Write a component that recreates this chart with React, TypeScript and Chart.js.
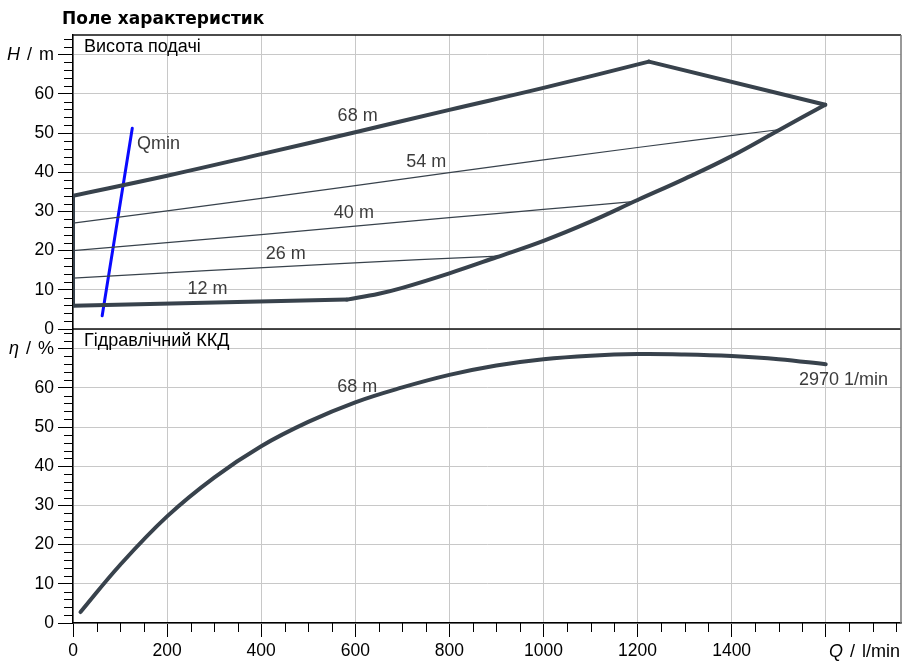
import React, { useEffect, useRef } from 'react';
import { Chart, registerables } from 'chart.js';

Chart.register(...registerables);

// ---- data (Q in l/min, H in m, eta in %) ----
const lowerEdgeQ = [582, 650, 700, 800, 900, 1000, 1100, 1200, 1300, 1400, 1503, 1599];
const lowerEdgeH = [7.5, 9.0, 10.5, 14.2, 18.3, 22.5, 27.4, 32.9, 38.3, 44.1, 50.9, 57.2];
const upperEdgeQ = [0, 200, 400, 600, 800, 1000, 1224];
const upperEdgeH = [34.0, 39.1, 44.6, 50.2, 55.9, 61.5, 68.2];
const rightEdgeQ = [1224, 1599];
const rightEdgeH = [68.2, 57.2];
const leftEdgeQ = [0, 0];
const leftEdgeH = [5.9, 34.0];
const d12Q = [0, 582];
const d12H = [5.9, 7.5];
const d54Q = [0, 400, 800, 1200, 1503];
const d54H = [27.0, 33.3, 39.9, 46.3, 50.9];
const d40Q = [0, 400, 800, 1000, 1202];
const d40H = [20.0, 24.1, 28.4, 30.5, 32.6];
const d26Q = [0, 567, 904];
const d26H = [13.0, 16.7, 18.6];
const qminQ = [62, 126];
const qminH = [3.4, 51.2];
const effQ = [16, 100, 200, 300, 400, 500, 600, 700, 800, 900, 1000, 1100, 1200, 1300, 1400, 1500, 1600];
const effEta = [2.8, 14.8, 27.2, 37.1, 45.1, 51.3, 56.3, 60.1, 63.3, 65.7, 67.3, 68.2, 68.6, 68.5, 68.1, 67.3, 66.0];

// tick values
const xTickValues = [0, 200, 400, 600, 800, 1000, 1200, 1400, 1600];
const xLabelHidden = [1600];
const yTickValues = [0, 10, 20, 30, 40, 50, 60, 70];
const yLabelHidden = [70];

// labels anchored in data units
const headLabelText = ['68 m', '54 m', '40 m', '26 m', '12 m'];
const headLabelQ = [605, 751, 597, 452, 286];
const headLabelH = [54.3, 42.5, 29.5, 19.1, 10.2];
const qminLabel = 'Qmin';
const qminLabelQ = 136;
const qminLabelH = 47.1;
const effLabelText = ['68 m'];
const effLabelQ = [604];
const effLabelEta = [60.1];
const speedLabel = '2970 1/min';
const speedLabelQ = 1543;
const speedLabelEta = 62.0;

const title = 'Поле характеристик';
const topPanelTitle = 'Висота подачі';
const bottomPanelTitle = 'Гідравлічний ККД';

const CURVE = '#38424c';
const LABEL = '#3c3c3c';
const GRID = '#c8c8c8';
const FONT = '"Liberation Sans", Arial, sans-serif';

const pts = (qs: number[], vs: number[]) => qs.map((q, i) => ({ x: q, y: vs[i] }));

const thick = (data: any[], axis: string, curved = true) => ({
  data,
  yAxisID: axis,
  showLine: true,
  borderColor: CURVE,
  borderWidth: 4,
  pointRadius: 0,
  borderCapStyle: 'round',
  borderJoinStyle: 'round',
  cubicInterpolationMode: 'default',
  tension: curved ? 0.4 : 0,
});
const thin = (data: any[]) => ({
  data,
  yAxisID: 'yHead',
  showLine: true,
  borderColor: CURVE,
  borderWidth: 1.2,
  pointRadius: 0,
  cubicInterpolationMode: 'default',
  tension: 0.4,
});

const decor = {
  id: 'decor',
  afterDraw(chart: any) {
    const { ctx, chartArea: a, scales } = chart;
    const x = scales.x;
    const yH = scales.yHead;
    const yE = scales.yEta;
    ctx.save();
    // minor ticks
    ctx.strokeStyle = '#000';
    ctx.lineWidth = 1;
    ctx.beginPath();
    for (let q = 0; q <= x.max; q += 50) {
      if (q % 200 === 0) continue;
      const px = Math.round(x.getPixelForValue(q)) + 0.5;
      ctx.moveTo(px, a.bottom);
      ctx.lineTo(px, a.bottom + 9);
    }
    for (const s of [yH, yE]) {
      for (let v = 0; v <= s.max; v += 2) {
        if (v % 10 === 0) continue;
        const py = Math.round(s.getPixelForValue(v)) + 0.5;
        ctx.moveTo(a.left - 9, py);
        ctx.lineTo(a.left, py);
      }
    }
    ctx.stroke();
    // frame
    ctx.lineWidth = 1.5;
    ctx.strokeStyle = '#111';
    ctx.beginPath();
    ctx.moveTo(a.left, a.top);
    ctx.lineTo(a.right, a.top);
    const mid = yH.getPixelForValue(0);
    ctx.moveTo(a.left, mid);
    ctx.lineTo(a.right, mid);
    ctx.stroke();
    ctx.strokeStyle = '#777';
    ctx.beginPath();
    ctx.moveTo(a.right, a.top);
    ctx.lineTo(a.right, a.bottom);
    ctx.stroke();

    // title
    ctx.fillStyle = '#000';
    ctx.font = 'bold 17px "DejaVu Sans"';
    ctx.textAlign = 'left';
    ctx.textBaseline = 'alphabetic';
    ctx.fillText(title, a.left - 11, 24);

    // panel titles
    ctx.font = `18px ${FONT}`;
    ctx.textBaseline = 'middle';
    ctx.fillText(topPanelTitle, a.left + 11, yH.top + 12);
    ctx.fillText(bottomPanelTitle, a.left + 11, yE.top + 12);

    // axis titles
    const axisTitle = (sym: string, unit: string, px: number, py: number) => {
      ctx.textAlign = 'right';
      ctx.textBaseline = 'middle';
      ctx.fillStyle = '#000';
      ctx.font = `18px ${FONT}`;
      ctx.fillText(unit, px, py);
      const uw = ctx.measureText(unit).width;
      ctx.fillText('/', px - uw - 7, py);
      const sw = ctx.measureText('/').width;
      ctx.font = `italic 18px ${FONT}`;
      ctx.fillText(sym, px - uw - 7 - sw - 7, py);
    };
    axisTitle('H', 'm', a.left - 19, yH.getPixelForValue(70));
    axisTitle('η', '%', a.left - 19, yE.getPixelForValue(70));
    axisTitle('Q', 'l/min', a.right - 1, a.bottom + 29);

    // curve labels
    ctx.fillStyle = LABEL;
    ctx.font = `18px ${FONT}`;
    ctx.textAlign = 'center';
    ctx.textBaseline = 'middle';
    headLabelText.forEach((t, i) => {
      ctx.fillText(t, x.getPixelForValue(headLabelQ[i]), yH.getPixelForValue(headLabelH[i]));
    });
    effLabelText.forEach((t, i) => {
      ctx.fillText(t, x.getPixelForValue(effLabelQ[i]), yE.getPixelForValue(effLabelEta[i]));
    });
    ctx.textAlign = 'left';
    ctx.fillText(qminLabel, x.getPixelForValue(qminLabelQ), yH.getPixelForValue(qminLabelH));
    ctx.fillText(speedLabel, x.getPixelForValue(speedLabelQ), yE.getPixelForValue(speedLabelEta));
    ctx.restore();
  },
};

export default function App() {
  const ref = useRef<HTMLCanvasElement>(null);
  useEffect(() => {
    if (!ref.current) return;
    const yScale = () => ({
      type: 'linear',
      position: 'left',
      stack: 'panels',
      stackWeight: 1,
      min: 0,
      max: 75,
      afterFit: (s: any) => {
        s.width = 73;
      },
      afterBuildTicks: (s: any) => {
        s.ticks = yTickValues.map((v) => ({ value: v }));
      },
      border: { color: '#000', width: 1.5 },
      grid: { color: GRID, lineWidth: 1, tickLength: 15, tickColor: '#000', tickWidth: 1 },
      ticks: {
        autoSkip: false,
        padding: 4,
        color: '#000',
        font: { family: FONT, size: 17.5 },
        callback: (v: number) => (yLabelHidden.includes(v) ? '' : String(v)),
      },
    });
    const chart = new Chart(ref.current, {
      type: 'scatter',
      data: {
        datasets: [
          thick(pts(lowerEdgeQ, lowerEdgeH), 'yHead'),
          thick(pts(upperEdgeQ, upperEdgeH), 'yHead'),
          thick(pts(rightEdgeQ, rightEdgeH), 'yHead', false),
          thick(pts(leftEdgeQ, leftEdgeH), 'yHead', false),
          thick(pts(d12Q, d12H), 'yHead', false),
          thin(pts(d54Q, d54H)),
          thin(pts(d40Q, d40H)),
          thin(pts(d26Q, d26H)),
          {
            data: pts(qminQ, qminH),
            yAxisID: 'yHead',
            showLine: true,
            borderColor: '#0a0aff',
            borderWidth: 3,
            pointRadius: 0,
            borderCapStyle: 'round',
            tension: 0,
          },
          thick(pts(effQ, effEta), 'yEta'),
        ] as any,
      },
      options: {
        animation: false,
        responsive: false,
        devicePixelRatio: 1,
        events: [],
        layout: { padding: { top: 35, right: 16, left: 0, bottom: 0 } },
        plugins: { legend: { display: false }, tooltip: { enabled: false }, title: { display: false } },
        scales: {
          x: {
            type: 'linear',
            position: 'bottom',
            min: 0,
            max: 1760,
            afterFit: (s: any) => {
              s.height = 43;
            },
            afterBuildTicks: (s: any) => {
              s.ticks = xTickValues.map((v) => ({ value: v }));
            },
            border: { color: '#000', width: 1.5 },
            grid: { color: GRID, lineWidth: 1, tickLength: 14, tickColor: '#000', tickWidth: 1 },
            ticks: {
              autoSkip: false,
              padding: 4,
              color: '#000',
              maxRotation: 0,
              minRotation: 0,
              font: { family: FONT, size: 17.5 },
              callback: (v: number) => (xLabelHidden.includes(v) ? '' : String(v)),
            },
          },
          yEta: yScale(),
          yHead: yScale(),
        } as any,
      },
      plugins: [decor],
    });
    return () => chart.destroy();
  }, []);
  return (
    <div style={{ position: 'absolute', left: 0, top: 0, width: 917, height: 666, background: '#fff' }}>
      <canvas ref={ref} width={917} height={666} style={{ display: 'block', width: 917, height: 666 }} />
    </div>
  );
}
